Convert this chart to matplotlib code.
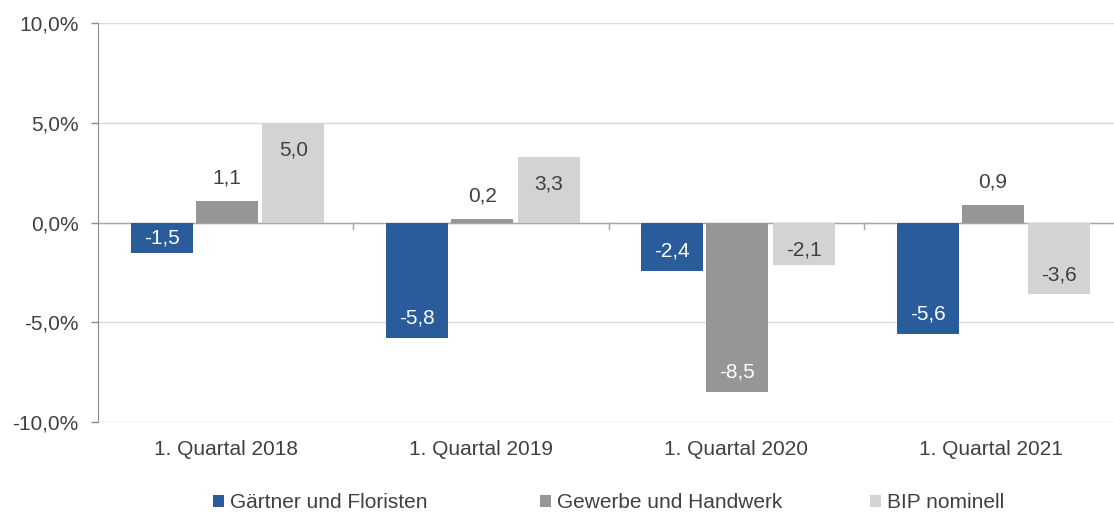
import matplotlib
matplotlib.use("Agg")
import matplotlib.pyplot as plt
import numpy as np

categories = ["1. Quartal 2018", "1. Quartal 2019", "1. Quartal 2020", "1. Quartal 2021"]
series_names = ["Gärtner und Floristen", "Gewerbe und Handwerk", "BIP nominell"]
gaertner = [-1.5, -5.8, -2.4, -5.6]
gewerbe = [1.1, 0.2, -8.5, 0.9]
bip = [5.0, 3.3, -2.1, -3.6]
y_ticks = [-10, -5, 0, 5, 10]
y_labels = ["-10,0%", "-5,0%", "0,0%", "5,0%", "10,0%"]

colors = ["#2A5B9B", "#969696", "#D3D3D3"]
label_colors = [["white"] * 4, ["#404040", "#404040", "white", "#404040"], ["#404040"] * 4]
plt.rcParams['font.family'] = ['Liberation Sans', 'DejaVu Sans']
txt = "#404040"
fs = 15

fig = plt.figure(figsize=(11.14, 5.13), dpi=100)
ax = fig.add_axes([0.088, 0.177, 0.9165, 0.778])
x = np.arange(len(categories))
offs = [-0.25, 0.005, 0.265]
w = 0.243
series = [gaertner, gewerbe, bip]
handles = []
for i, (vals, c) in enumerate(zip(series, colors)):
    bars = ax.bar(x + offs[i], vals, width=w, color=c, zorder=3, label=series_names[i])
    handles.append(bars)
    for j, v in enumerate(vals):
        s = f"{v:.1f}".replace(".", ",")
        if i == 1 and v > 0:
            ypos = v + 1.15
            col = txt
        else:
            if abs(v) < 2:
                ypos = v / 2
            elif v > 0:
                ypos = v - 1.35
            else:
                ypos = v + 1.0
                if ypos > -1.35:
                    ypos = -1.35
            col = label_colors[i][j]
        ax.text(x[j] + offs[i], ypos, s, ha="center", va="center", color=col, fontsize=fs, zorder=4)

ax.set_xlim(-0.5, 3.5)
ax.set_ylim(-10, 10)
ax.set_yticks(y_ticks)
ax.set_yticklabels(y_labels, fontsize=fs, color=txt)
ax.set_xticks(x)
ax.set_xticklabels(categories, fontsize=fs, color=txt)
ax.tick_params(axis="x", length=0, pad=13)
ax.tick_params(axis="y", length=5, color="#8C8C8C", width=1, pad=9)
for v in y_ticks:
    ax.axhline(v, color="#D9D9D9", lw=1, zorder=1)
ax.axhline(0, color="#A6A6A6", lw=1, zorder=2)
for b in [0.5, 1.5, 2.5]:
    ax.plot([b, b], [0, -0.3], color="#A6A6A6", lw=1, zorder=2, clip_on=False)
for s in ["top", "right", "bottom"]:
    ax.spines[s].set_visible(False)
ax.spines["left"].set_color("#8C8C8C")

leg_x = [213 / 1114, 540 / 1114, 870 / 1114]
for h, name, lx in zip(handles, series_names, leg_x):
    leg = fig.legend([h], [name], loc="center left", bbox_to_anchor=(lx, 1 - 503 / 513),
                     frameon=False, fontsize=fs, handlelength=0.55, handleheight=0.55,
                     handletextpad=0.25, borderpad=0, borderaxespad=0)
    for t in leg.get_texts():
        t.set_color(txt)

fig.savefig("out.png", dpi=100)
